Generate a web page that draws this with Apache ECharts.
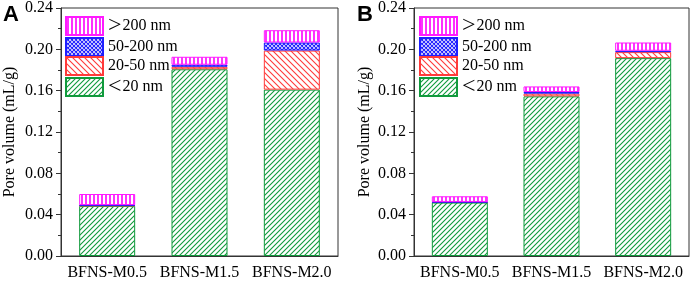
<!DOCTYPE html>
<html>
<head>
<meta charset="utf-8">
<script src="https://cdn.jsdelivr.net/npm/echarts@6/dist/echarts.min.js"></script>
<style>html,body{margin:0;padding:0;background:#fff}#c{width:692px;height:281px}</style>
</head>
<body>
<div id="c"></div>
<script>
const categories = ['BFNS-M0.5', 'BFNS-M1.5', 'BFNS-M2.0'];
const seriesNames = ['<20 nm', '20-50 nm', '50-200 nm', '>200 nm'];
const legendOrder = ['>200 nm', '50-200 nm', '20-50 nm', '<20 nm'];
// Panel A values (mL/g)
const A_lt20 = [0.0485, 0.1807, 0.1610];
const A_20_50 = [0.0003, 0.0024, 0.0378];
const A_50_200 = [0.0005, 0.0020, 0.0078];
const A_gt200 = [0.0107, 0.0077, 0.0119];
// Panel B values (mL/g)
const B_lt20 = [0.0517, 0.1545, 0.1915];
const B_20_50 = [0.0003, 0.0026, 0.0058];
const B_50_200 = [0.0003, 0.0016, 0.0013];
const B_gt200 = [0.0055, 0.0054, 0.0080];
const yTicks = [0, 0.04, 0.08, 0.12, 0.16, 0.20, 0.24];

const colors = ['#109a3c', '#ff3a3a', '#1e1eff', '#ff1aff'];
const FONT = 'Liberation Serif';

function makePattern(color, type, s) {
  const c = document.createElement('canvas');
  c.width = s; c.height = s;
  const ctx = c.getContext('2d');
  ctx.fillStyle = '#fff';
  ctx.fillRect(0, 0, s, s);
  ctx.strokeStyle = color;
  ctx.lineWidth = 1.1;
  ctx.beginPath();
  if (type === 'fwd' || type === 'cross') {
    ctx.moveTo(-1, s + 1); ctx.lineTo(s + 1, -1);
    ctx.moveTo(-1, 1); ctx.lineTo(1, -1);
    ctx.moveTo(s - 1, s + 1); ctx.lineTo(s + 1, s - 1);
  }
  if (type === 'back' || type === 'cross') {
    ctx.moveTo(-1, -1); ctx.lineTo(s + 1, s + 1);
    ctx.moveTo(s - 1, -1); ctx.lineTo(s + 1, 1);
    ctx.moveTo(-1, s - 1); ctx.lineTo(1, s + 1);
  }
  if (type === 'vert') {
    ctx.lineWidth = 1.8;
    ctx.moveTo(s / 2, 0); ctx.lineTo(s / 2, s);
  }
  ctx.stroke();
  return { image: c, repeat: 'repeat' };
}
const patterns = [
  makePattern(colors[0], 'fwd', 5),
  makePattern(colors[1], 'back', 6),
  makePattern(colors[2], 'cross', 4),
  makePattern(colors[3], 'vert', 4)
];

const chart = echarts.init(document.getElementById('c'), null, { renderer: 'canvas' });

const grids = [
  { left: 61, top: 8, width: 277, height: 249 },
  { left: 414, top: 8, width: 275, height: 249 }
];

function xAxis(i) {
  return {
    type: 'category', gridIndex: i, data: categories,
    axisLine: { lineStyle: { color: '#333', width: 1 } },
    axisTick: { alignWithLabel: true, length: 4, inside: false, lineStyle: { color: '#333' } },
    axisLabel: { color: '#000', fontFamily: FONT, fontSize: 16, margin: 9, interval: 0 }
  };
}
function yAxis(i, gap) {
  return {
    type: 'value', gridIndex: i, min: 0, max: 0.24, interval: 0.04,
    name: 'Pore volume (mL/g)', nameLocation: 'middle', nameGap: gap,
    nameTextStyle: { color: '#000', fontFamily: FONT, fontSize: 16 },
    axisLine: { show: true, lineStyle: { color: '#333', width: 1 } },
    axisTick: { show: true, length: 5, lineStyle: { color: '#333' } },
    minorTick: { show: true, splitNumber: 2, length: 3, lineStyle: { color: '#333' } },
    splitLine: { show: false },
    axisLabel: {
      color: '#000', fontFamily: FONT, fontSize: 16, margin: 8,
      customValues: yTicks,
      formatter: v => v.toFixed(2)
    }
  };
}

const dataA = [A_lt20, A_20_50, A_50_200, A_gt200];
const dataB = [B_lt20, B_20_50, B_50_200, B_gt200];
const series = [];
[dataA, dataB].forEach((d, gi) => {
  d.forEach((vals, si) => {
    series.push({
      name: seriesNames[si], type: 'bar', xAxisIndex: gi, yAxisIndex: gi,
      stack: 'S' + gi, barWidth: 56, data: vals,
      itemStyle: { color: patterns[si], borderColor: colors[si], borderWidth: 1 },
      emphasis: { disabled: true }
    });
  });
});

function legend(left) {
  return {
    orient: 'vertical', left: left, top: 14, padding: 0,
    itemWidth: 37, itemHeight: 18, itemGap: -1,
    icon: 'rect', data: legendOrder, selectedMode: false,
    formatter: name => {
      if (name[0] === '>' || name[0] === '<') return '{g|' + name[0] + '}{t|' + name.slice(1) + '}';
      return '{t|' + name + '}';
    },
    textStyle: {
      color: '#000', fontFamily: FONT, fontSize: 16, lineHeight: 18,
      rich: {
        g: { fontFamily: FONT, fontSize: 24, lineHeight: 18, color: '#000', padding: [0, 1, 0, 0] },
        t: { fontFamily: FONT, fontSize: 16, lineHeight: 18, color: '#000' }
      }
    }
  };
}

chart.setOption({
  animation: false,
  backgroundColor: '#fff',
  grid: grids.map(g => Object.assign({ show: true, borderColor: '#333', borderWidth: 1, backgroundColor: 'transparent' }, g)),
  xAxis: [xAxis(0), xAxis(1)],
  yAxis: [yAxis(0, 43), yAxis(1, 41)],
  legend: [legend(65), legend(419)],
  series: series,
  graphic: [
    { type: 'text', left: 3, top: 4, style: { text: 'A', font: 'bold 22px Liberation Sans', fill: '#000' } },
    { type: 'text', left: 357, top: 4, style: { text: 'B', font: 'bold 22px Liberation Sans', fill: '#000' } }
  ]
});
</script>
</body>
</html>
